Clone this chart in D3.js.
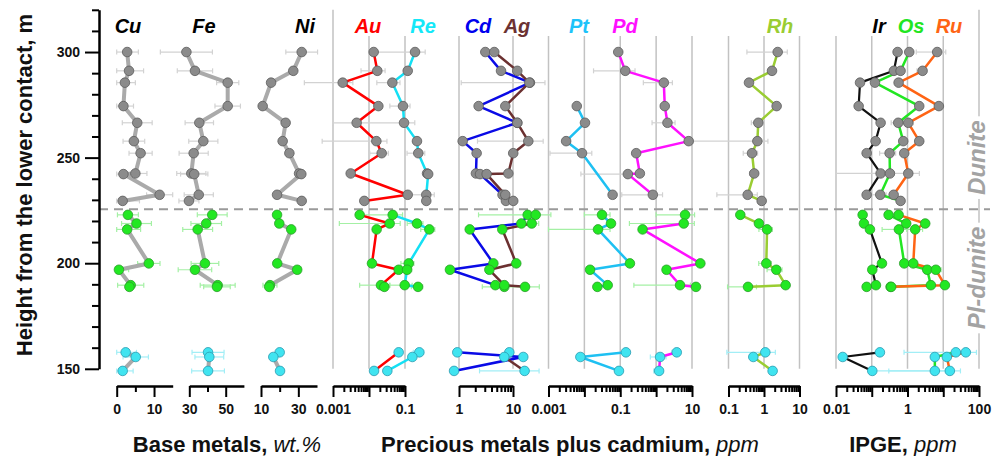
<!DOCTYPE html>
<html><head><meta charset="utf-8">
<script src="https://cdn.jsdelivr.net/npm/d3@7"></script>
<style>
html,body{margin:0;padding:0;background:#fff;}
svg{display:block;font-family:Arial,"Liberation Sans",sans-serif;}
</style></head><body>
<svg id="chart" width="1005" height="456"></svg>
<script>
// ---- sample heights above the lower contact (m), one list per interval ----
const hDunite   = [300, 291.1, 285.5, 274.4, 266.5, 257.8, 252.1, 242.5, 242.2, 232.4, 229.5];
const hPlDunite = [222.9, 218.8, 216.0, 199.9, 196.9, 189.6, 188.8];
const hLower    = [157.8, 155.6, 149.0];
const contactHeight = 225.6;

// ---- base metals, wt.% (value, ± error) ----
const cuDun = [2.8, 3.3, 2.2, 1.8, 5.5, 4.6, 6.4, 5.0, 1.8, 11.5, 1.6];
const cuDunErr = [3.0, 3.9, 2.8, 2.7, 4.0, 2.9, 3.1, 3.1, 2.7, 3.5, 4.5];
const cuPl = [3.0, 5.3, 2.8, 8.6, 0.6, 3.75, 3.4];
const cuPlErr = [2.8, 4.0, 3.6, 3.0, 2.6, 3.5, 0];
const cuLow = [2.4, 5.1, 1.6];
const cuLowErr = [2.9, 3.4, 2.8];

const feDun = [28.4, 33.1, 51.1, 51.1, 35.5, 37.7, 32.4, 31.1, 32.7, 35.2, 29.8];
const feDunErr = [14.3, 9.7, 6.1, 7.0, 7.8, 8.0, 8.0, 8.0, 7.5, 8.0, 5.5];
const fePl = [42.6, 39.3, 34.6, 38.6, 33.1, 45.6, 45.2];
const fePlErr = [8.2, 8.4, 8.2, 7.6, 9.2, 9.6, 7.3];
const feLow = [40.3, 41.0, 40.3];
const feLowErr = [8.8, 7.9, 9.0];

const niDun = [31.8, 27.3, 15.4, 10.9, 23.2, 21.6, 25.2, 30.4, 31.6, 18.6, 31.8];
const niDunErr = [8.5, 0, 0, 0, 0, 0, 0, 0, 0, 0, 0];
const niPl = [18.6, 19.8, 26.2, 18.7, 29.4, 14.8, 14.4];
const niPlErr = [0, 0, 0, 0, 0, 3.75, 0];
const niLow = [20.0, 16.6, 20.2];
const niLowErr = [0, 0, 0];

// ---- precious metals plus cadmium, ppm ----
const auDun = [0.0135, 0.017, 0.00186, 0.0182, 0.00454, 0.016, 0.0225, 0.0031, null, 0.119, 0.0074];
const auDunErr = [0, 0.011, 0.0017, 0, 0, 0.0155, 0.012, 0, 0, 0, 0];
const auPl = [0.0055, 0.0375, 0.0163, 0.0121, 0.0667, 0.0215, 0.0267];
const auPlErr = [0, 0.036, 0, 0, 0, 0.016, 0];
const auLow = [0.0667, null, 0.0138];
const auLowErr = [0, 0, 0];

const reDun = [0.19, 0.119, 0.0445, 0.088, 0.094, 0.215, 0.234, 0.41, 0.44, 0.39, 0.39];
const reDunErr = [0.174, 0, 0.028, 0.05, 0.093, 0, 0.12, 0.08, 0, 0.26, 0];
const rePl = [0.0455, 0.215, 0.474, 0.127, 0.114, 0.098, 0.23];
const rePlErr = [0.04, 0.1, 0.2, 0.05, 0.04, 0.06, 0.08];
const reLow = [0.25, 0.16, 0.0323];
const reLowErr = [0.08, 0, 0];

const cdDun = [3.07, 6.0, 20.6, 2.31, 12.0, 1.17, 2.12, 2.06, 2.45, 6.4, 7.4];
const cdDunErr = [0, 0, 0, 0, 0, 0, 0, 0, 0, 0, 0];
const cdPl = [18.7, 14.3, 1.58, 4.33, 0.68, 4.71, 6.9];
const cdPlErr = [0, 0, 0, 0, 0, 0, 0];
const cdLow = [0.93, 15.5, 0.81];
const cdLowErr = [0, 0, 0];

const agDun = [4.5, 12.0, 20.1, 7.2, 12.0, 19.2, 10.1, 8.2, 3.25, 7.2, 10.1];
const agDunErr = [0, 0, 19, 0, 0, 17, 0, 0, 0, 0, 0];
const agPl = [26.3, 22.2, 6.34, 11.5, 3.65, 6.9, 16.7];
const agPlErr = [24, 7.7, 0, 0, 0, 0, 14];
const agLow = [8.55, 6.9, 16.4];
const agLowErr = [0, 0, 14];

const ptDun = [null, null, null, 0.00614, 0.0104, 0.0031, 0.0086, null, null, 0.0612, null];
const ptDunErr = [0, 0, 0, 0, 0, 0, 0.0075, 0, 0, 0, 0];
const ptPl = [0.031, 0.0552, 0.024, 0.186, 0.0144, 0.0447, 0.023];
const ptPlErr = [0.021, 0, 0.028, 0, 0, 0.006, 0];
const ptLow = [0.144, 0.00774, 0.092];
const ptLowErr = [0, 0, 0];

const pdDun = [0.088, 0.138, 1.64, 1.74, 2.07, 8.08, 0.278, 0.352, 0.163, 0.81, null];
const pdDunErr = [0, 0.12, 1.2, 0.4, 1.3, 0, 0, 0, 0.155, 0.7, 0];
const pdPl = [6.4, 5.88, 0.419, 17.1, 1.95, 4.64, 12.9];
const pdPlErr = [5.4, 5.7, 0, 0, 0, 4.4, 0];
const pdLow = [3.76, 1.29, 1.21];
const pdLowErr = [1.0, 0.6, 0.35];

const rhDun = [2.43, 1.68, 0.378, 2.27, 0.69, 0.65, 0.46, 0.53, null, 0.347, 0.86];
const rhDunErr = [2.1, 0, 0, 0, 0.25, 0.64, 0.2, 0.13, 0, 0.3, 0.2];
const rhPl = [0.215, 0.72, 1.22, 1.16, 2.22, 4.07, 0.354];
const rhPlErr = [0, 0, 0.5, 0.45, 1.0, 0, 0.26];
const rhLow = [1.09, 0.50, 1.75];
const rhLowErr = [1.0, 0, 0];

// ---- IPGE, ppm ----
const irDun = [0.528, 0.417, 0.047, 0.043, 0.177, 0.128, 0.072, 0.177, null, 0.072, null];
const irDunErr = [0, 0, 0, 0, 0, 0, 0, 0, 0, 0, 0];
const irPl = [0.0556, 0.0605, 0.089, 0.193, 0.1035, 0.131, 0.072];
const irPlErr = [0, 0, 0, 0, 0, 0, 0];
const irLow = [0.169, 0.0154, 0.1035];
const irLowErr = [0, 0, 0];

const osDun = [1.12, 0.64, 0.123, 2.13, 0.55, 0.76, 0.316, 0.322, null, 0.173, 0.64];
const osDunErr = [0, 0, 0, 0, 0.2, 0, 0.15, 0.1, 0, 0.08, 0];
const osPl = [0.296, 0.92, 0.575, 0.81, 3.56, 4.51, 0.336];
const osPlErr = [0, 0, 0.38, 0, 0, 0, 0];
const osLow = [22.5, 5.82, 5.82];
const osLowErr = [0, 0, 5.7];

const ruDun = [6.76, 2.64, 0.564, 7.54, 1.05, 2.13, 0.81, 1.05, null, 0.41, null];
const ruDunErr = [5, 0.8, 0, 0, 0.4, 0, 0, 1.1, 0, 0, 0];
const ruPl = [0.564, 3.13, 1.64, 1.45, 6.21, 11.1, 0.35];
const ruPlErr = [0, 0, 1, 0, 2.5, 0, 0];
const ruLow = [42.8, 12.6, 15.3];
const ruLowErr = [42, 0, 15];

// ---- axis tick labels ----
const heightTicks = [150, 200, 250, 300];
const cuTicks = [0, 10];
const feTicks = [30, 50];
const niTicks = [10, 30];
const auReTicks = [0.001, 0.1];
const cdAgTicks = [1, 10];
const ptPdTicks = [0.001, 0.1, 10];
const rhTicks = [0.1, 1, 10];
const ipgeTicks = [0.01, 1, 100];

// ---------------------------------------------------------------
const svg = d3.select('#chart');
const y = d3.scaleLinear().domain([150, 320]).range([368.8, 9.8]);
const axisY = 386;
const gridTop = 36;

const panels = {
  cu:   {scale: d3.scaleLinear().domain([0, 15]).range([116.7, 172.7]), ticks: [0, 5, 10], labels: cuTicks},
  fe:   {scale: d3.scaleLinear().domain([30, 60]).range([189.3, 243.9]), ticks: [30, 40, 50], labels: feTicks},
  ni:   {scale: d3.scaleLinear().domain([10, 40]).range([261, 317]), ticks: [10, 20, 30], labels: niTicks},
  aure: {scale: d3.scaleLog().domain([0.001, 0.1]).range([333, 405]), log: true, labels: auReTicks},
  cdag: {scale: d3.scaleLog().domain([1, 10]).range([459, 513]), log: true, labels: cdAgTicks},
  ptpd: {scale: d3.scaleLog().domain([0.001, 10]).range([548.5, 692]), log: true, labels: ptPdTicks},
  rh:   {scale: d3.scaleLog().domain([0.1, 10]).range([728.5, 799.5]), log: true, labels: rhTicks},
  ipge: {scale: d3.scaleLog().domain([0.01, 100]).range([836, 979]), log: true, labels: ipgeTicks}
};

const groups = [
  {h: hDunite,   fill: '#8b8b8b', stroke: '#5c5c5c', err: '#d2d2d2'},
  {h: hPlDunite, fill: '#22e822', stroke: '#2c9c2c', err: '#a4f0a4'},
  {h: hLower,    fill: '#40e4f0', stroke: '#2a9bb0', err: '#a2eef6'}
];

const elements = [
  {name: 'Cu', panel: 'cu', color: '#000', line: '#aaaaaa', lw: 4, v: [cuDun, cuPl, cuLow], e: [cuDunErr, cuPlErr, cuLowErr], lx: 128},
  {name: 'Fe', panel: 'fe', color: '#000', line: '#aaaaaa', lw: 4, v: [feDun, fePl, feLow], e: [feDunErr, fePlErr, feLowErr], lx: 204},
  {name: 'Ni', panel: 'ni', color: '#000', line: '#aaaaaa', lw: 4, v: [niDun, niPl, niLow], e: [niDunErr, niPlErr, niLowErr], lx: 305},
  {name: 'Au', panel: 'aure', color: '#ff0000', line: '#ff0000', lw: 2.5, v: [auDun, auPl, auLow], e: [auDunErr, auPlErr, auLowErr], lx: 368},
  {name: 'Re', panel: 'aure', color: '#14e8f8', line: '#14e0f4', lw: 2.5, v: [reDun, rePl, reLow], e: [reDunErr, rePlErr, reLowErr], lx: 423},
  {name: 'Cd', panel: 'cdag', color: '#0000ee', line: '#0a0ae6', lw: 2.5, v: [cdDun, cdPl, cdLow], e: [cdDunErr, cdPlErr, cdLowErr], lx: 478},
  {name: 'Ag', panel: 'cdag', color: '#6b3232', line: '#6b3030', lw: 2.5, v: [agDun, agPl, agLow], e: [agDunErr, agPlErr, agLowErr], lx: 517},
  {name: 'Pt', panel: 'ptpd', color: '#1ec3fa', line: '#1ec0f2', lw: 2.5, v: [ptDun, ptPl, ptLow], e: [ptDunErr, ptPlErr, ptLowErr], lx: 579},
  {name: 'Pd', panel: 'ptpd', color: '#ff10ff', line: '#ff10ff', lw: 2.5, v: [pdDun, pdPl, pdLow], e: [pdDunErr, pdPlErr, pdLowErr], lx: 625},
  {name: 'Rh', panel: 'rh', color: '#9acd32', line: '#9acd32', lw: 2.5, v: [rhDun, rhPl, rhLow], e: [rhDunErr, rhPlErr, rhLowErr], lx: 780},
  {name: 'Ir', panel: 'ipge', color: '#000', line: '#111111', lw: 2.2, v: [irDun, irPl, irLow], e: [irDunErr, irPlErr, irLowErr], lx: 879},
  {name: 'Os', panel: 'ipge', color: '#22e622', line: '#22e622', lw: 2.5, v: [osDun, osPl, osLow], e: [osDunErr, osPlErr, osLowErr], lx: 911},
  {name: 'Ru', panel: 'ipge', color: '#ff6414', line: '#ff6414', lw: 2.5, v: [ruDun, ruPl, ruLow], e: [ruDunErr, ruPlErr, ruLowErr], lx: 949}
];

const isDecade = d => Math.abs(Math.log10(d) - Math.round(Math.log10(d))) < 1e-9;
const fmt = d => String(+d.toPrecision(6));

// ---- vertical reference lines at decades of the log panels ----
const gridG = svg.append('g');
Object.values(panels).filter(p => p.log).forEach(p => {
  const decades = p.scale.ticks().filter(isDecade);
  gridG.selectAll(null).data(decades).join('line')
    .attr('x1', d => p.scale(d)).attr('x2', d => p.scale(d))
    .attr('y1', d => (p === panels.aure && d === 0.001) || (p === panels.ipge && d === 100) ? y(320) : gridTop)
    .attr('y2', y(150))
    .attr('stroke', '#c2c2c2').attr('stroke-width', 1.5);
});

// ---- lithology boundary ----
svg.append('line')
  .attr('x1', 99).attr('x2', 990)
  .attr('y1', y(contactHeight)).attr('y2', y(contactHeight))
  .attr('stroke', '#9a9a9a').attr('stroke-width', 2).attr('stroke-dasharray', '9,6');

// ---- lithology names on the right ----
[{t: 'Dunite', h: 250}, {t: 'Pl-dunite', h: 193}].forEach(u => {
  const g = svg.append('g').attr('transform', `translate(985,${y(u.h)}) rotate(-90)`);
  const txt = g.append('text').attr('x', 0).attr('y', 0)
    .attr('text-anchor', 'middle')
    .attr('font-size', 24).attr('font-weight', 'bold').attr('font-style', 'italic')
    .attr('fill', '#a3a3a3').text(u.t);
  const bb = txt.node().getBBox();
  g.insert('rect', 'text').attr('x', bb.x - 4).attr('y', bb.y).attr('width', bb.width + 8).attr('height', bb.height)
    .attr('fill', '#fff');
});

// ---- series: error bars, then profile lines, then sample points ----
const errG = svg.append('g'), lineG = svg.append('g'), ptG = svg.append('g');

elements.forEach(el => {
  const p = panels[el.panel];
  const x = p.scale;
  const xMin = x.range()[0];
  groups.forEach((gr, gi) => {
    const pts = gr.h.map((h, i) => ({h, v: el.v[gi][i], e: el.e[gi][i] || 0}))
      .filter(d => d.v !== null && d.v !== undefined);

    const withErr = pts.filter(d => d.e > 0);
    const lo = d => (d.v - d.e > 0 ? x(d.v - d.e) : xMin);
    const hi = d => x(d.v + d.e);
    const eb = errG.selectAll(null).data(withErr).join('g').attr('stroke', gr.err).attr('stroke-width', 1.2);
    eb.append('line').attr('x1', lo).attr('x2', hi).attr('y1', d => y(d.h)).attr('y2', d => y(d.h));
    eb.append('line').attr('x1', lo).attr('x2', lo).attr('y1', d => y(d.h) - 2.5).attr('y2', d => y(d.h) + 2.5);
    eb.append('line').attr('x1', hi).attr('x2', hi).attr('y1', d => y(d.h) - 2.5).attr('y2', d => y(d.h) + 2.5);

    lineG.append('path').datum(pts)
      .attr('d', d3.line().x(d => x(d.v)).y(d => y(d.h)))
      .attr('fill', 'none').attr('stroke', el.line).attr('stroke-width', el.lw)
      .attr('stroke-linejoin', 'round').attr('stroke-linecap', 'round');

    ptG.selectAll(null).data(pts).join('circle')
      .attr('cx', d => x(d.v)).attr('cy', d => y(d.h)).attr('r', 4.8)
      .attr('fill', gr.fill).attr('stroke', gr.stroke).attr('stroke-width', 0.8);
  });

  // element symbol above the panel
  svg.append('text').attr('x', el.lx).attr('y', 33).attr('text-anchor', 'middle')
    .attr('font-size', 20).attr('font-weight', 'bold').attr('font-style', 'italic')
    .attr('fill', el.color).text(el.name);
});

// ---- height axis ----
const yAxis = d3.axisLeft(y).tickValues(d3.range(150, 321, 10))
  .tickFormat(d => heightTicks.includes(d) ? d : '').tickSizeOuter(0);
const yg = svg.append('g').attr('transform', 'translate(99,0)').call(yAxis);
yg.select('.domain').attr('stroke', '#000').attr('stroke-width', 2.5);
yg.selectAll('.tick line').attr('x2', d => heightTicks.includes(d) ? -14 : -7).attr('stroke', '#000').attr('stroke-width', 2);
yg.selectAll('.tick text').attr('x', -19).attr('font-size', 14).attr('font-weight', 'bold')
  .attr('font-family', 'Arial, "Liberation Sans", sans-serif').attr('fill', '#111');

svg.append('text').attr('transform', 'translate(32,185) rotate(-90)')
  .attr('text-anchor', 'middle').attr('font-size', 22).attr('font-weight', 'bold').attr('fill', '#111')
  .text('Height from the lower contact, m');

// ---- concentration axes ----
Object.values(panels).forEach(p => {
  const tv = p.log ? p.scale.ticks() : p.ticks;
  const major = d => p.log ? isDecade(d) : p.labels.includes(d);
  const ax = d3.axisBottom(p.scale).tickValues(tv)
    .tickFormat(d => p.labels.some(l => Math.abs(l - d) < 1e-12) ? fmt(d) : '')
    .tickSizeOuter(0);
  const g = svg.append('g').attr('transform', `translate(0,${axisY})`).call(ax);
  g.select('.domain').attr('stroke', '#000').attr('stroke-width', 2.5);
  g.selectAll('.tick line').attr('y2', d => major(d) ? 11 : 6).attr('stroke', '#000').attr('stroke-width', 2);
  g.selectAll('.tick text').attr('y', 28).attr('dy', 0).attr('font-size', 14).attr('font-weight', 'bold')
    .attr('font-family', 'Arial, "Liberation Sans", sans-serif').attr('fill', '#111');
});

// ---- axis titles ----
function title(xc, bold, ital) {
  const t = svg.append('text').attr('x', xc).attr('y', 452).attr('text-anchor', 'middle')
    .attr('font-size', 22).attr('fill', '#111');
  t.append('tspan').attr('font-weight', 'bold').text(bold);
  t.append('tspan').attr('font-style', 'italic').text(ital);
}
title(227, 'Base metals, ', 'wt.%');
title(570, 'Precious metals plus cadmium, ', 'ppm');
title(903, 'IPGE, ', 'ppm');
</script>
</body></html>
